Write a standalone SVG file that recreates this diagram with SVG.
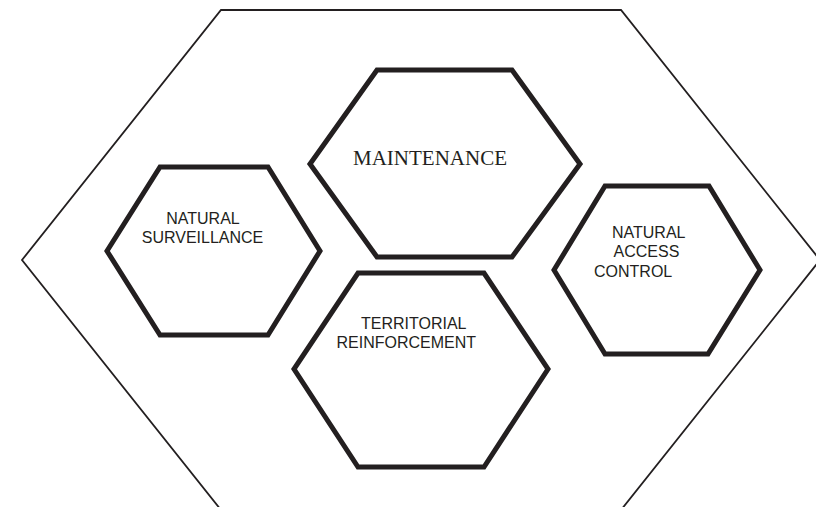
<svg xmlns="http://www.w3.org/2000/svg" width="816" height="507" viewBox="0 0 816 507">
<style>
.outer{fill:none;stroke:#231f20;stroke-width:1.8;stroke-linejoin:miter}
.hex{fill:#ffffff;stroke:#231f20;stroke-width:5;stroke-linejoin:miter}
.lbl{font-family:"Liberation Sans",Arial,sans-serif;font-size:16px;fill:#231f20}
.serif{font-family:"Liberation Serif","Times New Roman",serif;font-size:21px;fill:#231f20}
</style>
<rect width="816" height="507" fill="#ffffff"/>
<g id="outer-frame">
<polygon class="outer" points="221,10 621,10 820,260 621,510 221,510 22,260"/>
</g>
<g id="connectors"></g>
<g id="maintenance">
<polygon class="hex" points="377,70 512,70 580,164 512,257 377,257 310,164"/>
<text class="serif" x="353" y="165">MAINTENANCE</text>
</g>
<g id="natural-surveillance">
<polygon class="hex" points="160,167 268,167 320,251 268,335 160,335 107,251"/>
<text class="lbl" x="203" y="224" text-anchor="middle">NATURAL</text>
<text class="lbl" x="202.5" y="242.5" text-anchor="middle">SURVEILLANCE</text>
</g>
<g id="natural-access-control">
<polygon class="hex" points="605,186 709,186 760,270 708,354 605,354 554,270"/>
<text class="lbl" x="612" y="237.5">NATURAL</text>
<text class="lbl" x="613.5" y="256.5">ACCESS</text>
<text class="lbl" x="594" y="276.5">CONTROL</text>
</g>
<g id="territorial-reinforcement">
<polygon class="hex" points="358,273 484,273 548,369 484,467 358,467 294,369"/>
<text class="lbl" x="361" y="329">TERRITORIAL</text>
<text class="lbl" x="336.5" y="348">REINFORCEMENT</text>
</g>
</svg>
